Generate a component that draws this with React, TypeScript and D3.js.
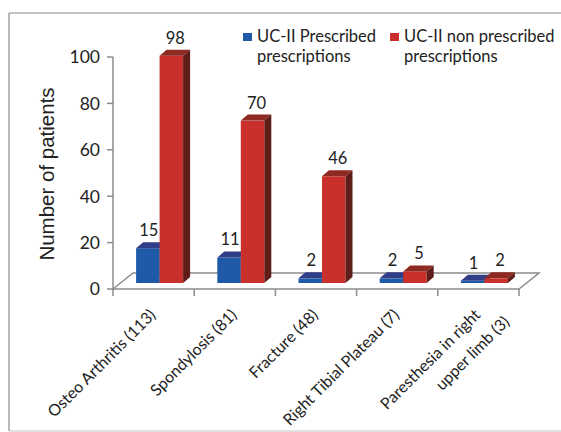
import * as d3 from "d3";
import React from "react";

// chart data
const categories = [
  "Osteo Arthritis (113)",
  "Spondylosis (81)",
  "Fracture (48)",
  "Right Tibial Plateau (7)",
  "Paresthesia in right upper limb (3)",
];
const categoryLines = [
  ["Osteo Arthritis (113)"],
  ["Spondylosis (81)"],
  ["Fracture (48)"],
  ["Right Tibial Plateau (7)"],
  ["Paresthesia in right", "upper limb (3)"],
];
const prescribed = [15, 11, 2, 2, 1];
const nonPrescribed = [98, 70, 46, 5, 2];
const yTicks = [0, 20, 40, 60, 80, 100];
const legendLabels = [
  ["UC-II Prescribed", "prescriptions"],
  ["UC-II non prescribed", "prescriptions"],
];

const W = 561;
const H = 432;
const FONT = "Lato, 'Open Sans', sans-serif";

const blue = { front: "#1f5aa8", top: "#303e88", side: "#1a3f78", labelDx: 1 };
const red = { front: "#c9302b", top: "#8f2a22", side: "#5e1d18", labelDx: 4 };

const App: React.FC = () => {
  const plot = { left: 113, right: 519, bottom: 289, top: 57 };
  const floor = { dx: 20, dy: -16 };
  const barShift = { dx: 6, dy: -6 };
  const depth = { dx: 7, dy: -6 };
  const barW = 23.5;

  const x = d3.scaleBand<string>()
    .domain(categories)
    .range([plot.left, plot.right])
    .padding(0);

  const y = d3.scaleLinear()
    .domain([0, 100])
    .range([plot.bottom, plot.top]);

  const bar = (bx: number, v: number, c: typeof blue, key: string) => {
    const yT = y(v) + barShift.dy;
    const yB = y(0) + barShift.dy;
    const w = barW;
    return (
      <g key={key}>
        <rect x={bx} y={yT} width={w} height={yB - yT} fill={c.front} />
        <polygon
          points={`${bx},${yT} ${bx + depth.dx},${yT + depth.dy} ${bx + w + depth.dx},${yT + depth.dy} ${bx + w},${yT}`}
          fill={c.top}
        />
        <polygon
          points={`${bx + w},${yT} ${bx + w + depth.dx},${yT + depth.dy} ${bx + w + depth.dx},${yB + depth.dy} ${bx + w},${yB}`}
          fill={c.side}
        />
        <text
          x={bx + w / 2 + c.labelDx}
          y={yT + depth.dy - 6}
          textAnchor="middle"
          fontSize={16.5}
          fontFamily={FONT}
          fill="#222"
        >
          {v}
        </text>
      </g>
    );
  };

  const axisColor = "#8c8c8c";
  const x0 = plot.left;
  const x1 = plot.right;
  const y0 = plot.bottom;

  return (
    <svg
      width={W}
      height={H}
      style={{ position: "absolute", left: 0, top: 0, background: "#fff" }}
    >
      {/* outer frame */}
      <line x1={9} y1={13} x2={W} y2={13} stroke="#8a8a8a" strokeWidth={1.2} />
      <line x1={9} y1={13} x2={9} y2={H - 1} stroke="#8a8a8a" strokeWidth={1.2} />
      <line x1={9} y1={H - 1} x2={W} y2={H - 1} stroke="#c0c0c0" strokeWidth={1} />

      {/* floor */}
      <polygon
        points={`${x0},${y0} ${x0 + floor.dx},${y0 + floor.dy} ${x1 + floor.dx},${y0 + floor.dy} ${x1},${y0}`}
        fill="none"
        stroke={axisColor}
        strokeWidth={1.5}
      />

      {/* y axis */}
      <line x1={x0} y1={y(100)} x2={x0} y2={y0} stroke={axisColor} strokeWidth={1.5} />
      {yTicks.map(t => (
        <g key={t}>
          <line x1={x0 - 6} x2={x0} y1={y(t)} y2={y(t)} stroke={axisColor} strokeWidth={1.5} />
          <text
            x={x0 - 13}
            y={y(t)}
            dy="0.36em"
            textAnchor="end"
            fontSize={17.5}
            fontFamily={FONT}
            fill="#222"
          >
            {t}
          </text>
        </g>
      ))}

      {/* x ticks */}
      {categories.concat(["end"]).map((c, i) => {
        const tx = plot.left + i * x.bandwidth();
        return <line key={c} x1={tx} x2={tx} y1={y0} y2={y0 + 7} stroke={axisColor} strokeWidth={1.5} />;
      })}

      {/* bars */}
      {categories.map((c, i) => {
        const cx = (x(c) || 0) + x.bandwidth() / 2 + barShift.dx;
        return (
          <g key={c}>
            {bar(cx - barW, prescribed[i], blue, "b")}
            {bar(cx, nonPrescribed[i], red, "r")}
          </g>
        );
      })}

      {/* category labels */}
      {categories.map((c, i) => {
        const cx = (x(c) || 0) + x.bandwidth() / 2;
        return categoryLines[i].map((line, j) => {
          const ax = cx + 3 + j * 29;
          const ay = 316 + j * 7;
          return (
            <text
              key={c + j}
              transform={`translate(${ax},${ay}) rotate(-45)`}
              textAnchor="end"
              fontSize={16}
              fontFamily={FONT}
              fill="#222"
            >
              {line}
            </text>
          );
        });
      })}

      {/* y title */}
      <text
        transform={`translate(54,174) rotate(-90)`}
        textAnchor="middle"
        fontSize={20.5}
        fontFamily="'Liberation Sans', Arial, sans-serif"
        fill="#222"
      >
        Number of patients
      </text>

      {/* legend */}
      {legendLabels.map((lines, i) => {
        const lx = i === 0 ? 243 : 390;
        const c = i === 0 ? blue.front : red.front;
        return (
          <g key={i}>
            <rect x={lx} y={33} width={9} height={8} fill={c} />
            {lines.map((l, j) => (
              <text
                key={j}
                x={lx + 14}
                y={42 + j * 20}
                fontSize={16.5}
                fontFamily={FONT}
                fill="#222"
              >
                {l}
              </text>
            ))}
          </g>
        );
      })}
    </svg>
  );
};

export default App;
